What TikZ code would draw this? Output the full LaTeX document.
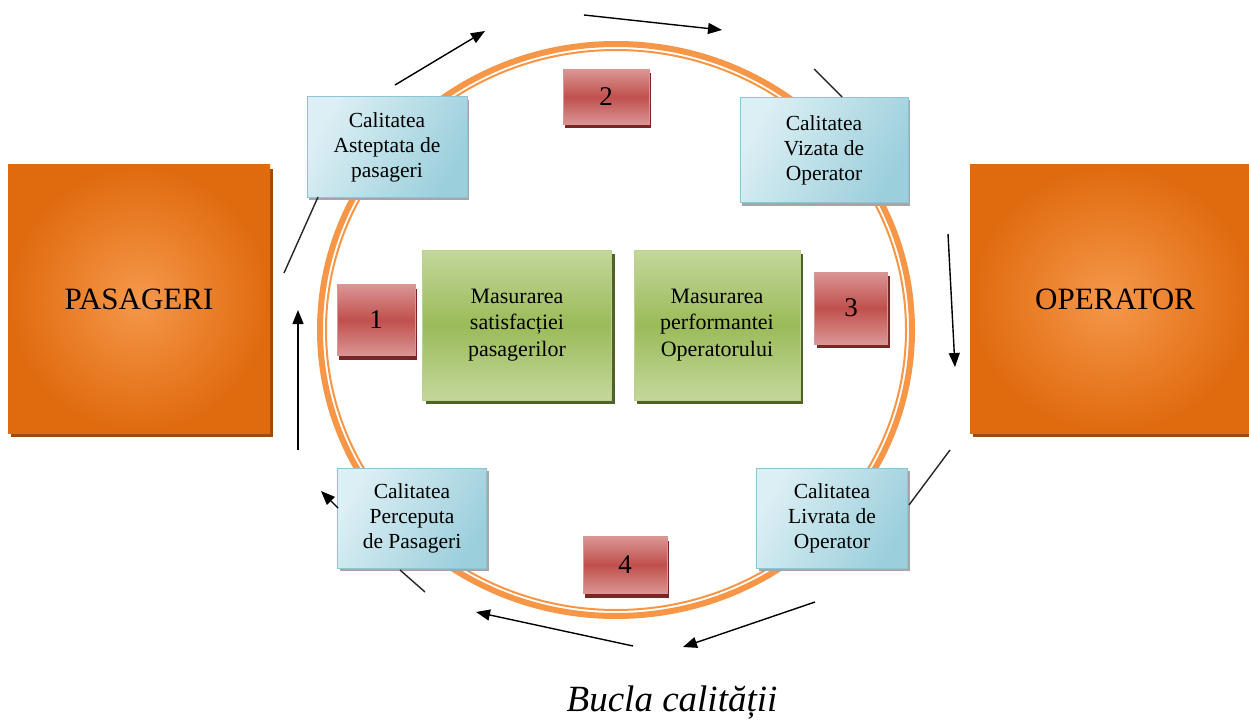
\documentclass[tikz,border=0pt]{standalone}
\usepackage{fontspec}
\setmainfont{Liberation Serif}
\usetikzlibrary{arrows.meta,shadows}
\definecolor{ringor}{HTML}{F79646}
\definecolor{orin}{HTML}{F5984A}
\definecolor{orout}{HTML}{E06A0E}
\definecolor{orsh}{HTML}{9E4A08}
\definecolor{blA}{HTML}{DCEFF4}
\definecolor{blB}{HTML}{9CCFDC}
\definecolor{bldraw}{HTML}{8CC6D6}
\definecolor{redmid}{HTML}{C0504D}
\definecolor{redlt}{HTML}{DA9694}
\definecolor{redsh}{HTML}{7A2624}
\definecolor{grmid}{HTML}{9BBB59}
\definecolor{grlt}{HTML}{C4D79B}
\definecolor{grsh}{HTML}{4F6228}
\tikzset{
  orbox/.style={rectangle, inner color=orin, outer color=orout, draw=none,
    drop shadow={shadow xshift=3pt, shadow yshift=-4pt, fill=orsh, opacity=1},
    font=\fontsize{31}{33}\selectfont},
  blbox/.style={rectangle, left color=blA, right color=blB, shading angle=60, draw=bldraw, line width=1pt,
    drop shadow={shadow xshift=2pt, shadow yshift=-3pt, fill=black!35, opacity=1},
    align=center, font=\fontsize{21.5}{25}\selectfont, inner sep=2pt},
  rdbox/.style={rectangle, top color=redlt, bottom color=redlt, middle color=redmid, draw=redlt, line width=1pt,
    drop shadow={shadow xshift=2pt, shadow yshift=-4pt, fill=redsh, opacity=1},
    font=\fontsize{27}{29}\selectfont},
  grbox/.style={rectangle, top color=grlt, bottom color=grlt, middle color=grmid, draw=grlt!80!grmid, line width=1pt,
    drop shadow={shadow xshift=3pt, shadow yshift=-4pt, fill=grsh, opacity=1},
    align=center, font=\fontsize{22}{26.5}\selectfont},
  arr/.style={draw=black, line width=1.4pt, -{Triangle[length=14pt,width=11pt]}},
  ln/.style={draw=black!85, line width=1.4pt}
}
\begin{document}
\begin{tikzpicture}[x=1pt,y=-1pt]
\useasboundingbox (0,0) rectangle (1249,722);
% ring
\draw[ringor, line width=6pt] (616,330) ellipse [x radius=296, y radius=286];
\draw[ringor, line width=2pt] (616,330) ellipse [x radius=290, y radius=280];
% big boxes
\node[orbox, minimum width=262pt, minimum height=268pt] (pas) at (139,299) {PASAGERI};
\node[orbox, minimum width=282pt, minimum height=268pt] (op) at (1111,299) {\hspace*{8pt}OPERATOR};
% blue boxes
\node[blbox, minimum width=160pt, minimum height=100pt] (asp) at (387,147) {Calitatea\\Asteptata de\\pasageri};
\node[blbox, minimum width=168pt, minimum height=105pt] (viz) at (824,150) {Calitatea\\Vizata de\\Operator};
\node[blbox, minimum width=149pt, minimum height=100pt] (perc) at (412,518) {Calitatea\\Perceputa\\de Pasageri};
\node[blbox, minimum width=151pt, minimum height=100pt] (livr) at (832,518) {Calitatea\\Livrata de\\Operator};
% red boxes
\node[rdbox, minimum width=78pt, minimum height=71pt] (r1) at (376,320) {1};
\node[rdbox, minimum width=86pt, minimum height=55pt] (r2) at (606,97) {2};
\node[rdbox, minimum width=73pt, minimum height=72pt] (r3) at (851,308) {3};
\node[rdbox, minimum width=84pt, minimum height=57pt] (r4) at (625,565) {4};
% green boxes
\node[grbox, minimum width=189pt, minimum height=150pt] (g1) at (517,325) {Masurarea\\satisfacției\\pasagerilor};
\node[grbox, minimum width=166pt, minimum height=150pt] (g2) at (717,325) {Masurarea\\performantei\\Operatorului};
% connector coordinates
\coordinate (a1s) at (284,273); \coordinate (a1e) at (318,197);
\coordinate (a2s) at (395,85);  \coordinate (a2e) at (485,31);
\coordinate (a3s) at (584,15);  \coordinate (a3e) at (722,30);
\coordinate (a4s) at (814,69);  \coordinate (a4e) at (842,97);
\coordinate (a5s) at (948,234); \coordinate (a5e) at (955,367);
\coordinate (a6s) at (950,450); \coordinate (a6e) at (909,505);
\coordinate (a7s) at (815,602); \coordinate (a7e) at (683,647);
\coordinate (a8s) at (633,646); \coordinate (a8e) at (476,612);
\coordinate (a9s) at (425,592); \coordinate (a9e) at (400,570);
\coordinate (a10s) at (338,508); \coordinate (a10e) at (321,491);
\coordinate (a11s) at (298,450); \coordinate (a11e) at (298,310);
\draw[ln] (a1s) -- (a1e);
\draw[arr] (a2s) -- (a2e);
\draw[arr] (a3s) -- (a3e);
\draw[ln] (a4s) -- (a4e);
\draw[arr] (a5s) -- (a5e);
\draw[ln] (a6s) -- (a6e);
\draw[arr] (a7s) -- (a7e);
\draw[arr] (a8s) -- (a8e);
\draw[ln] (a9s) -- (a9e);
\draw[arr] (a10s) -- (a10e);
\draw[arr] (a11s) -- (a11e);
% caption
\node[font=\fontsize{37}{40}\selectfont\itshape] (cap) at (672,703) {Bucla calității};
\end{tikzpicture}
\end{document}
